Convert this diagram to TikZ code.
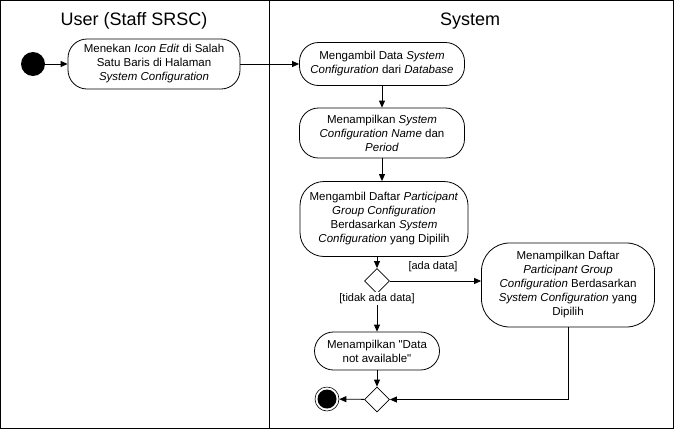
\documentclass[tikz,border=0pt]{standalone}
\usepackage{fontspec}
\setmainfont{Liberation Sans}
\usetikzlibrary{shapes.geometric,arrows.meta}
\begin{document}
\begin{tikzpicture}[x=1pt, y=-1pt, line width=0.8pt,
  aktivitas/.style={draw, rounded corners=19pt, align=center, inner sep=0pt,
    font=\fontsize{11.5}{14}\selectfont},
  keputusan/.style={draw, diamond, minimum width=25pt, minimum height=25pt, inner sep=0pt},
  alur/.style={-{Triangle[length=7pt,width=6pt]}},
  syarat/.style={fill=white, inner sep=1pt, font=\fontsize{11}{13}\selectfont}]
\useasboundingbox (0,0) rectangle (674,429);
% lajur
\draw (0.5,0.5) rectangle (673.5,428.5);
\draw (269.5,0.5) -- (269.5,428.5);
\node[font=\fontsize{18}{20}\selectfont] (lajurUser) at (134,21) {User (Staff SRSC)};
\node[font=\fontsize{18}{20}\selectfont] (lajurSistem) at (470,21) {System};
% awal dan akhir
\node[circle, fill=black, minimum size=24pt, inner sep=0pt] (mulai) at (33,64) {};
\node[circle, draw, line width=0.6pt, minimum size=24pt, inner sep=0pt,
  path picture={\fill[black] (path picture bounding box.center) circle (9.5pt);}] (selesai) at (327,399) {};
% aktivitas
\node[aktivitas, minimum width=172pt, minimum height=50pt] (tekanEdit) at (154,64)
  {Menekan \textit{Icon Edit} di Salah\\Satu Baris di Halaman\\\textit{System Configuration}};
\node[aktivitas, minimum width=165pt, minimum height=43pt] (ambilData) at (382,64)
  {Mengambil Data \textit{System}\\\textit{Configuration} dari \textit{Database}};
\node[aktivitas, minimum width=165pt, minimum height=50pt] (tampilNama) at (382,133)
  {Menampilkan \textit{System}\\\textit{Configuration Name} dan\\\textit{Period}};
\node[aktivitas, minimum width=168pt, minimum height=75pt, rounded corners=24pt] (ambilGrup) at (384,219)
  {Mengambil Daftar \textit{Participant}\\\textit{Group Configuration}\\Berdasarkan \textit{System}\\\textit{Configuration} yang Dipilih};
\node[keputusan] (cekData) at (377,281) {};
\node[aktivitas, minimum width=173pt, minimum height=84pt, rounded corners=28pt] (tampilGrup) at (568,285)
  {Menampilkan Daftar\\\textit{Participant Group}\\\textit{Configuration} Berdasarkan\\\textit{System Configuration} yang\\Dipilih};
\node[aktivitas, minimum width=125pt, minimum height=38pt] (tampilKosong) at (377,351)
  {Menampilkan \textquotedbl Data\\not available\textquotedbl};
\node[keputusan] (gabung) at (377,399.5) {};
% alur
\draw[alur] (mulai) -- (tekanEdit);
\draw[alur] (tekanEdit) -- (ambilData);
\draw[alur] (ambilData) -- (tampilNama);
\draw[alur] (tampilNama.south) -- (tampilNama.south |- ambilGrup.north);
\draw[alur] (ambilGrup.south -| cekData) -- (cekData.north);
\draw[alur] (cekData.east) -- (cekData.east -| tampilGrup.west);
\draw[alur] (cekData) -- (tampilKosong);
\draw[alur] (tampilKosong) -- (gabung);
\draw[alur] (tampilGrup.south) |- (gabung.east);
\draw[alur] (gabung) -- (selesai);
% syarat
\node[syarat] (adaData) at (433,267) {[ada data]};
\node[syarat] (tidakAdaData) at (377,298.5) {[tidak ada data]};
\end{tikzpicture}
\end{document}
